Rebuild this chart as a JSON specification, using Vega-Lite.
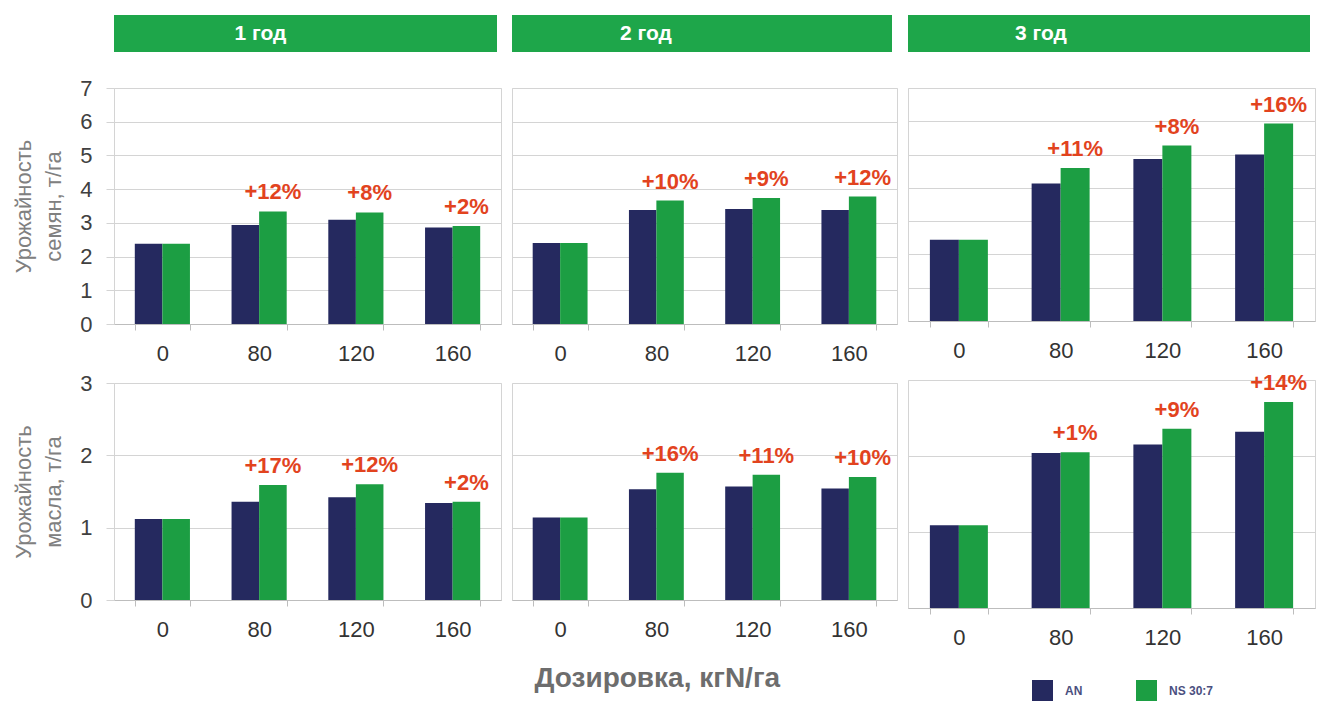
{
  "$schema": "https://vega.github.io/schema/vega-lite/v6.json",
  "background": "white",
  "padding": {"left": 12, "top": 15, "right": 5, "bottom": 0},
  "config": {
    "font": "Liberation Sans",
    "view": {"stroke": "#d4d4d4"},
    "axisX": {"labelFontSize": 22, "labelColor": "#333333", "labelAngle": 0, "domainColor": "#bdbdbd", "tickColor": "#bdbdbd", "tickSize": 6, "tickBand": "extent", "labelPadding": 13, "grid": false},
    "axisY": {"grid": true, "gridColor": "#d4d4d4", "domain": false, "tickColor": "#d4d4d4", "tickSize": 8, "labelFontSize": 22, "labelColor": "#404040", "labelPadding": 14, "titleFontSize": 22, "titleFontWeight": "normal", "titleColor": "#808080", "titlePadding": 14, "titleLineHeight": 30}
  },
  "datasets": {
    "yield": [
      {"year": 1, "metric": "seed", "dose": 0, "series": "AN", "value": 2.38},
      {"year": 1, "metric": "seed", "dose": 0, "series": "NS 30:7", "value": 2.38},
      {"year": 1, "metric": "seed", "dose": 80, "series": "AN", "value": 2.94},
      {"year": 1, "metric": "seed", "dose": 80, "series": "NS 30:7", "value": 3.34, "gain": "+12%"},
      {"year": 1, "metric": "seed", "dose": 120, "series": "AN", "value": 3.09},
      {"year": 1, "metric": "seed", "dose": 120, "series": "NS 30:7", "value": 3.31, "gain": "+8%"},
      {"year": 1, "metric": "seed", "dose": 160, "series": "AN", "value": 2.86},
      {"year": 1, "metric": "seed", "dose": 160, "series": "NS 30:7", "value": 2.91, "gain": "+2%"},
      {"year": 2, "metric": "seed", "dose": 0, "series": "AN", "value": 2.40},
      {"year": 2, "metric": "seed", "dose": 0, "series": "NS 30:7", "value": 2.40},
      {"year": 2, "metric": "seed", "dose": 80, "series": "AN", "value": 3.38},
      {"year": 2, "metric": "seed", "dose": 80, "series": "NS 30:7", "value": 3.66, "gain": "+10%"},
      {"year": 2, "metric": "seed", "dose": 120, "series": "AN", "value": 3.41},
      {"year": 2, "metric": "seed", "dose": 120, "series": "NS 30:7", "value": 3.74, "gain": "+9%"},
      {"year": 2, "metric": "seed", "dose": 160, "series": "AN", "value": 3.38},
      {"year": 2, "metric": "seed", "dose": 160, "series": "NS 30:7", "value": 3.78, "gain": "+12%"},
      {"year": 3, "metric": "seed", "dose": 0, "series": "AN", "value": 2.44},
      {"year": 3, "metric": "seed", "dose": 0, "series": "NS 30:7", "value": 2.44},
      {"year": 3, "metric": "seed", "dose": 80, "series": "AN", "value": 4.13},
      {"year": 3, "metric": "seed", "dose": 80, "series": "NS 30:7", "value": 4.60, "gain": "+11%"},
      {"year": 3, "metric": "seed", "dose": 120, "series": "AN", "value": 4.87},
      {"year": 3, "metric": "seed", "dose": 120, "series": "NS 30:7", "value": 5.27, "gain": "+8%"},
      {"year": 3, "metric": "seed", "dose": 160, "series": "AN", "value": 5.00},
      {"year": 3, "metric": "seed", "dose": 160, "series": "NS 30:7", "value": 5.93, "gain": "+16%"},
      {"year": 1, "metric": "oil", "dose": 0, "series": "AN", "value": 1.12},
      {"year": 1, "metric": "oil", "dose": 0, "series": "NS 30:7", "value": 1.12},
      {"year": 1, "metric": "oil", "dose": 80, "series": "AN", "value": 1.36},
      {"year": 1, "metric": "oil", "dose": 80, "series": "NS 30:7", "value": 1.59, "gain": "+17%"},
      {"year": 1, "metric": "oil", "dose": 120, "series": "AN", "value": 1.42},
      {"year": 1, "metric": "oil", "dose": 120, "series": "NS 30:7", "value": 1.60, "gain": "+12%"},
      {"year": 1, "metric": "oil", "dose": 160, "series": "AN", "value": 1.34},
      {"year": 1, "metric": "oil", "dose": 160, "series": "NS 30:7", "value": 1.36, "gain": "+2%"},
      {"year": 2, "metric": "oil", "dose": 0, "series": "AN", "value": 1.14},
      {"year": 2, "metric": "oil", "dose": 0, "series": "NS 30:7", "value": 1.14},
      {"year": 2, "metric": "oil", "dose": 80, "series": "AN", "value": 1.53},
      {"year": 2, "metric": "oil", "dose": 80, "series": "NS 30:7", "value": 1.76, "gain": "+16%"},
      {"year": 2, "metric": "oil", "dose": 120, "series": "AN", "value": 1.57},
      {"year": 2, "metric": "oil", "dose": 120, "series": "NS 30:7", "value": 1.73, "gain": "+11%"},
      {"year": 2, "metric": "oil", "dose": 160, "series": "AN", "value": 1.54},
      {"year": 2, "metric": "oil", "dose": 160, "series": "NS 30:7", "value": 1.70, "gain": "+10%"},
      {"year": 3, "metric": "oil", "dose": 0, "series": "AN", "value": 1.09},
      {"year": 3, "metric": "oil", "dose": 0, "series": "NS 30:7", "value": 1.09},
      {"year": 3, "metric": "oil", "dose": 80, "series": "AN", "value": 2.04},
      {"year": 3, "metric": "oil", "dose": 80, "series": "NS 30:7", "value": 2.05, "gain": "+1%"},
      {"year": 3, "metric": "oil", "dose": 120, "series": "AN", "value": 2.15},
      {"year": 3, "metric": "oil", "dose": 120, "series": "NS 30:7", "value": 2.36, "gain": "+9%"},
      {"year": 3, "metric": "oil", "dose": 160, "series": "AN", "value": 2.32},
      {"year": 3, "metric": "oil", "dose": 160, "series": "NS 30:7", "value": 2.71, "gain": "+14%"}
    ]
  },
  "hconcat": [
    {
      "vconcat": [
        {
          "width": 383, "height": 37,
          "view": {"fill": "#1ea64a", "stroke": null},
          "data": {"values": [{"header": "1 год"}]},
          "mark": {"type": "text", "color": "white", "fontSize": 21, "fontWeight": "bold", "baseline": "middle", "dx": -45},
          "encoding": {"text": {"field": "header"}}
        },
        {
          "vconcat": [
            {
              "width": 387, "height": 236,
              "data": {"name": "yield"},
              "transform": [{"filter": "datum.year == 1 && datum.metric == 'seed'"}],
              "encoding": {
                "x": {"field": "dose", "type": "ordinal", "scale": {"paddingInner": 0.43, "paddingOuter": 0.215}, "axis": {"title": null}},
                "xOffset": {"field": "series", "type": "nominal", "scale": {"domain": ["AN", "NS 30:7"], "paddingInner": 0, "paddingOuter": 0}},
                "y": {"field": "value", "type": "quantitative", "scale": {"domain": [0, 7], "nice": false}, "axis": {"values": [0, 1, 2, 3, 4, 5, 6, 7], "title": ["Урожайность", "семян, т/га"]}}
              },
              "layer": [
                {"mark": {"type": "bar"}, "encoding": {"color": {"field": "series", "type": "nominal", "scale": {"domain": ["AN", "NS 30:7"], "range": ["#25295f", "#1c9e43"]}, "legend": {"title": null, "orient": "none", "legendX": 918, "legendY": 665, "direction": "horizontal", "columns": 2, "symbolType": "square", "symbolSize": 441, "symbolStrokeWidth": 0, "symbolOpacity": 1, "labelFontSize": 12, "labelFontWeight": "bold", "labelColor": "#4a4f80", "labelOffset": 12, "columnPadding": 53, "padding": 0}}}},
                {"transform": [{"filter": "isValid(datum.gain)"}], "mark": {"type": "text", "color": "#e2431e", "fontSize": 22, "fontWeight": "bold", "baseline": "alphabetic", "dy": -12}, "encoding": {"text": {"field": "gain"}}}
              ]
            },
            {
              "width": 387, "height": 217,
              "data": {"name": "yield"},
              "transform": [{"filter": "datum.year == 1 && datum.metric == 'oil'"}],
              "encoding": {
                "x": {"field": "dose", "type": "ordinal", "scale": {"paddingInner": 0.43, "paddingOuter": 0.215}, "axis": {"title": null}},
                "xOffset": {"field": "series", "type": "nominal", "scale": {"domain": ["AN", "NS 30:7"], "paddingInner": 0, "paddingOuter": 0}},
                "y": {"field": "value", "type": "quantitative", "scale": {"domain": [0, 3], "nice": false}, "axis": {"values": [0, 1, 2, 3], "title": ["Урожайность", "масла, т/га"]}}
              },
              "layer": [
                {"mark": {"type": "bar"}, "encoding": {"color": {"field": "series", "type": "nominal", "scale": {"domain": ["AN", "NS 30:7"], "range": ["#25295f", "#1c9e43"]}, "legend": {"title": null, "orient": "none", "legendX": 918, "legendY": 665, "direction": "horizontal", "columns": 2, "symbolType": "square", "symbolSize": 441, "symbolStrokeWidth": 0, "symbolOpacity": 1, "labelFontSize": 12, "labelFontWeight": "bold", "labelColor": "#4a4f80", "labelOffset": 12, "columnPadding": 53, "padding": 0}}}},
                {"transform": [{"filter": "isValid(datum.gain)"}], "mark": {"type": "text", "color": "#e2431e", "fontSize": 22, "fontWeight": "bold", "baseline": "alphabetic", "dy": -12}, "encoding": {"text": {"field": "gain"}}}
              ]
            }
          ],
          "spacing": 59,
          "bounds": "flush",
          "resolve": {"scale": {"xOffset": "independent"}}
        }
      ],
      "spacing": 36,
      "bounds": "flush",
      "resolve": {"scale": {"xOffset": "independent"}}
    },
    {
      "vconcat": [
        {
          "width": 380, "height": 37,
          "view": {"fill": "#1ea64a", "stroke": null},
          "data": {"values": [{"header": "2 год"}]},
          "mark": {"type": "text", "color": "white", "fontSize": 21, "fontWeight": "bold", "baseline": "middle", "dx": -56},
          "encoding": {"text": {"field": "header"}}
        },
        {
          "vconcat": [
            {
              "width": 385, "height": 236,
              "data": {"name": "yield"},
              "transform": [{"filter": "datum.year == 2 && datum.metric == 'seed'"}],
              "encoding": {
                "x": {"field": "dose", "type": "ordinal", "scale": {"paddingInner": 0.43, "paddingOuter": 0.215}, "axis": {"title": null}},
                "xOffset": {"field": "series", "type": "nominal", "scale": {"domain": ["AN", "NS 30:7"], "paddingInner": 0, "paddingOuter": 0}},
                "y": {"field": "value", "type": "quantitative", "scale": {"domain": [0, 7], "nice": false}, "axis": {"values": [0, 1, 2, 3, 4, 5, 6, 7], "title": null, "labels": false, "ticks": false}}
              },
              "layer": [
                {"mark": {"type": "bar"}, "encoding": {"color": {"field": "series", "type": "nominal", "scale": {"domain": ["AN", "NS 30:7"], "range": ["#25295f", "#1c9e43"]}, "legend": {"title": null, "orient": "none", "legendX": 918, "legendY": 665, "direction": "horizontal", "columns": 2, "symbolType": "square", "symbolSize": 441, "symbolStrokeWidth": 0, "symbolOpacity": 1, "labelFontSize": 12, "labelFontWeight": "bold", "labelColor": "#4a4f80", "labelOffset": 12, "columnPadding": 53, "padding": 0}}}},
                {"transform": [{"filter": "isValid(datum.gain)"}], "mark": {"type": "text", "color": "#e2431e", "fontSize": 22, "fontWeight": "bold", "baseline": "alphabetic", "dy": -12}, "encoding": {"text": {"field": "gain"}}}
              ]
            },
            {
              "width": 385, "height": 217,
              "data": {"name": "yield"},
              "transform": [{"filter": "datum.year == 2 && datum.metric == 'oil'"}],
              "encoding": {
                "x": {"field": "dose", "type": "ordinal", "scale": {"paddingInner": 0.43, "paddingOuter": 0.215}, "axis": {"title": "Дозировка, кгN/га", "titleFontSize": 28, "titleFontWeight": "bold", "titleColor": "#6d6d6d", "titleX": 22, "titleAlign": "left", "titlePadding": 24}},
                "xOffset": {"field": "series", "type": "nominal", "scale": {"domain": ["AN", "NS 30:7"], "paddingInner": 0, "paddingOuter": 0}},
                "y": {"field": "value", "type": "quantitative", "scale": {"domain": [0, 3], "nice": false}, "axis": {"values": [0, 1, 2, 3], "title": null, "labels": false, "ticks": false}}
              },
              "layer": [
                {"mark": {"type": "bar"}, "encoding": {"color": {"field": "series", "type": "nominal", "scale": {"domain": ["AN", "NS 30:7"], "range": ["#25295f", "#1c9e43"]}, "legend": {"title": null, "orient": "none", "legendX": 918, "legendY": 665, "direction": "horizontal", "columns": 2, "symbolType": "square", "symbolSize": 441, "symbolStrokeWidth": 0, "symbolOpacity": 1, "labelFontSize": 12, "labelFontWeight": "bold", "labelColor": "#4a4f80", "labelOffset": 12, "columnPadding": 53, "padding": 0}}}},
                {"transform": [{"filter": "isValid(datum.gain)"}], "mark": {"type": "text", "color": "#e2431e", "fontSize": 22, "fontWeight": "bold", "baseline": "alphabetic", "dy": -12}, "encoding": {"text": {"field": "gain"}}}
              ]
            }
          ],
          "spacing": 59,
          "bounds": "flush",
          "resolve": {"scale": {"xOffset": "independent"}}
        }
      ],
      "spacing": 36,
      "bounds": "flush",
      "resolve": {"scale": {"xOffset": "independent"}}
    },
    {
      "vconcat": [
        {
          "width": 402, "height": 37,
          "view": {"fill": "#1ea64a", "stroke": null},
          "data": {"values": [{"header": "3 год"}]},
          "mark": {"type": "text", "color": "white", "fontSize": 21, "fontWeight": "bold", "baseline": "middle", "dx": -68},
          "encoding": {"text": {"field": "header"}}
        },
        {
          "vconcat": [
            {
              "width": 407, "height": 233,
              "data": {"name": "yield"},
              "transform": [{"filter": "datum.year == 3 && datum.metric == 'seed'"}],
              "encoding": {
                "x": {"field": "dose", "type": "ordinal", "scale": {"paddingInner": 0.43, "paddingOuter": 0.215}, "axis": {"title": null}},
                "xOffset": {"field": "series", "type": "nominal", "scale": {"domain": ["AN", "NS 30:7"], "paddingInner": 0, "paddingOuter": 0}},
                "y": {"field": "value", "type": "quantitative", "scale": {"domain": [0, 7], "nice": false}, "axis": {"values": [0, 1, 2, 3, 4, 5, 6, 7], "title": null, "labels": false, "ticks": false}}
              },
              "layer": [
                {"mark": {"type": "bar"}, "encoding": {"color": {"field": "series", "type": "nominal", "scale": {"domain": ["AN", "NS 30:7"], "range": ["#25295f", "#1c9e43"]}, "legend": {"title": null, "orient": "none", "legendX": 918, "legendY": 665, "direction": "horizontal", "columns": 2, "symbolType": "square", "symbolSize": 441, "symbolStrokeWidth": 0, "symbolOpacity": 1, "labelFontSize": 12, "labelFontWeight": "bold", "labelColor": "#4a4f80", "labelOffset": 12, "columnPadding": 53, "padding": 0}}}},
                {"transform": [{"filter": "isValid(datum.gain)"}], "mark": {"type": "text", "color": "#e2431e", "fontSize": 22, "fontWeight": "bold", "baseline": "alphabetic", "dy": -12}, "encoding": {"text": {"field": "gain"}}}
              ]
            },
            {
              "width": 407, "height": 228,
              "data": {"name": "yield"},
              "transform": [{"filter": "datum.year == 3 && datum.metric == 'oil'"}],
              "encoding": {
                "x": {"field": "dose", "type": "ordinal", "scale": {"paddingInner": 0.43, "paddingOuter": 0.215}, "axis": {"title": null}},
                "xOffset": {"field": "series", "type": "nominal", "scale": {"domain": ["AN", "NS 30:7"], "paddingInner": 0, "paddingOuter": 0}},
                "y": {"field": "value", "type": "quantitative", "scale": {"domain": [0, 3], "nice": false}, "axis": {"values": [0, 1, 2, 3], "title": null, "labels": false, "ticks": false}}
              },
              "layer": [
                {"mark": {"type": "bar"}, "encoding": {"color": {"field": "series", "type": "nominal", "scale": {"domain": ["AN", "NS 30:7"], "range": ["#25295f", "#1c9e43"]}, "legend": {"title": null, "orient": "none", "legendX": 918, "legendY": 665, "direction": "horizontal", "columns": 2, "symbolType": "square", "symbolSize": 441, "symbolStrokeWidth": 0, "symbolOpacity": 1, "labelFontSize": 12, "labelFontWeight": "bold", "labelColor": "#4a4f80", "labelOffset": 12, "columnPadding": 53, "padding": 0}}}},
                {"transform": [{"filter": "isValid(datum.gain)"}], "mark": {"type": "text", "color": "#e2431e", "fontSize": 22, "fontWeight": "bold", "baseline": "alphabetic", "dy": -12}, "encoding": {"text": {"field": "gain"}}}
              ]
            }
          ],
          "spacing": 59,
          "bounds": "flush",
          "resolve": {"scale": {"xOffset": "independent"}}
        }
      ],
      "spacing": 36,
      "bounds": "flush",
      "resolve": {"scale": {"xOffset": "independent"}}
    }
  ],
  "spacing": 9,
  "bounds": "full",
  "resolve": {"scale": {"xOffset": "independent"}}
}
